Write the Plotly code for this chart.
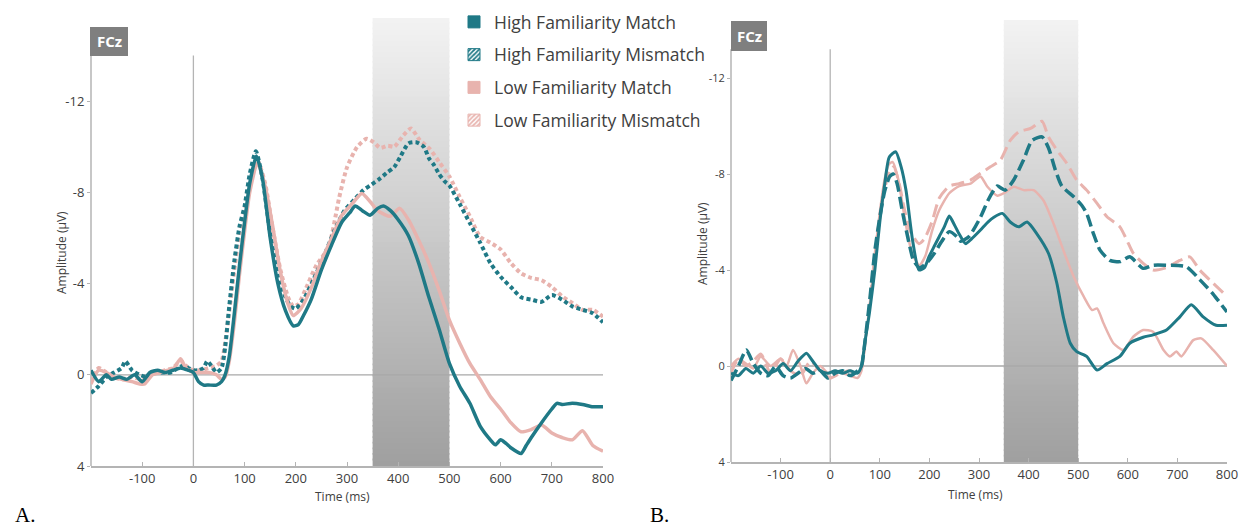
import plotly.graph_objects as go

# ---------------- data ----------------
# Panel A
A_hf_match_t = [-200,-185,-170,-160,-145,-130,-115,-100,-85,-70,-55,-40,-25,-10,0,10,20,30,45,55,62,70,80,90,100,110,123,135,150,165,180,195,205,215,230,250,270,290,305,316,330,345,360,371,385,400,420,440,460,480,500,520,540,560,580,590,600,610,620,640,650,660,680,700,710,720,740,760,780,800]
A_hf_match_v = [-0.2,0.3,0.0,0.2,0.1,0.2,0.0,0.3,-0.1,-0.2,-0.1,-0.2,-0.3,-0.2,-0.1,0.3,0.45,0.45,0.45,0.3,0.0,-0.8,-2.7,-4.8,-6.7,-8.4,-9.6,-8.6,-6.0,-4.0,-2.8,-2.15,-2.2,-2.6,-3.3,-4.6,-5.7,-6.7,-7.1,-7.4,-7.2,-7.0,-7.3,-7.4,-7.2,-6.8,-6.1,-4.9,-3.4,-2.0,-0.5,0.5,1.25,2.25,2.85,3.07,2.85,3.0,3.2,3.45,3.1,2.75,2.1,1.5,1.25,1.3,1.25,1.3,1.4,1.4]

A_hf_mismatch_t = [-200,-185,-170,-155,-140,-133,-120,-105,-90,-75,-60,-45,-30,-20,-10,0,10,20,27,35,45,55,62,70,80,90,100,110,122,135,150,165,180,190,200,215,235,255,275,295,315,332,345,361,380,392,405,420,435,450,460,470,480,490,500,520,540,560,580,600,620,640,660,680,700,720,740,760,780,800]
A_hf_mismatch_v = [0.8,0.5,0.1,-0.1,-0.3,-0.6,-0.2,0.0,0.1,-0.1,-0.1,-0.1,-0.3,-0.4,-0.3,-0.2,-0.2,-0.3,-0.6,-0.4,-0.1,-0.3,-1.2,-3.0,-5.0,-6.5,-7.4,-8.8,-9.8,-8.6,-6.2,-4.4,-3.4,-3.0,-2.9,-3.3,-4.2,-5.2,-6.3,-7.2,-7.7,-8.1,-8.3,-8.55,-8.9,-9.1,-9.6,-10.15,-10.2,-10.0,-9.5,-9.2,-8.8,-8.5,-8.3,-7.5,-6.65,-5.8,-4.9,-4.3,-3.85,-3.4,-3.3,-3.2,-3.5,-3.3,-3.0,-2.85,-2.7,-2.3]

A_lf_match_t = [-200,-185,-170,-155,-140,-120,-105,-95,-80,-65,-50,-38,-25,-15,0,15,30,45,55,62,70,80,90,100,110,125,140,155,170,185,195,210,230,250,270,290,310,329,345,360,384,403,420,440,460,480,500,520,540,560,580,600,620,640,660,680,700,720,740,760,780,800]
A_lf_match_v = [0.4,-0.2,-0.1,0.1,0.2,0.3,0.4,0.4,0.0,-0.1,-0.2,-0.3,-0.7,-0.3,-0.1,-0.1,-0.1,0.0,0.2,0.1,-0.6,-2.3,-4.4,-6.3,-8.0,-9.3,-8.3,-6.5,-4.5,-3.1,-2.6,-2.9,-3.8,-5.0,-6.0,-7.0,-7.5,-7.95,-7.6,-7.2,-6.95,-7.3,-6.8,-5.9,-4.9,-3.7,-2.4,-1.4,-0.5,0.2,0.95,1.5,2.1,2.5,2.4,2.2,2.55,2.75,2.85,2.45,3.1,3.35]

A_lf_mismatch_t = [-200,-185,-170,-155,-140,-120,-100,-85,-70,-55,-40,-25,-10,0,15,30,45,55,62,70,80,90,100,110,125,140,155,170,185,195,205,220,240,264,285,300,320,338,352,365,380,392,410,425,442,462,481,500,520,540,560,580,600,620,640,660,680,700,720,740,760,780,800]
A_lf_mismatch_v = [0.3,-0.3,-0.1,0.1,0.2,0.1,0.2,0.0,-0.1,-0.2,-0.3,-0.6,-0.3,-0.2,-0.2,-0.3,-0.4,-0.6,-1.4,-2.8,-4.6,-6.2,-7.3,-8.4,-9.4,-8.4,-6.4,-4.6,-3.4,-3.0,-3.1,-3.8,-4.8,-5.6,-7.8,-9.1,-10.0,-10.35,-10.2,-9.95,-10.05,-10.0,-10.5,-10.8,-10.3,-9.9,-9.3,-8.7,-7.8,-6.95,-6.05,-5.8,-5.5,-4.9,-4.45,-4.25,-4.15,-3.85,-3.45,-3.15,-2.85,-2.85,-2.55]

# Panel B
B_hf_match_t = [-200,-185,-170,-155,-140,-125,-110,-95,-80,-65,-48,-35,-20,-5,10,25,40,55,63,70,79,90,100,110,119,132,143,153,166,179,190,199,210,220,230,240,250,260,273,285,303,318,330,347,363,380,397,417,440,457,470,484,497,517,538,558,584,604,631,651,678,705,728,752,778,800]
B_hf_match_v = [0.3,0.4,0.1,0.3,0.0,0.3,0.2,-0.1,0.2,-0.2,-0.53,-0.2,0.2,0.3,0.2,0.3,0.2,0.3,0.0,-1.0,-2.2,-4.0,-6.0,-7.6,-8.7,-8.93,-8.3,-7.3,-5.25,-4.0,-4.1,-4.55,-5.0,-5.4,-5.8,-6.25,-5.9,-5.5,-5.1,-5.3,-5.67,-6.0,-6.2,-6.36,-6.0,-5.8,-6.0,-5.5,-4.7,-3.45,-2.05,-0.95,-0.6,-0.4,0.17,-0.1,-0.4,-0.95,-1.2,-1.3,-1.5,-2.05,-2.55,-2.05,-1.7,-1.7]

B_hf_mismatch_t = [-200,-185,-169,-155,-140,-125,-110,-95,-80,-65,-50,-35,-20,-5,10,25,40,55,63,70,80,90,100,110,120,127,135,145,155,168,180,195,210,225,240,255,263,280,303,318,330,337,353,370,390,407,427,440,454,467,491,507,517,531,544,564,584,604,631,651,678,718,745,772,800]
B_hf_mismatch_v = [0.6,0.0,-0.67,-0.1,0.3,0.4,0.0,0.4,0.5,0.3,0.1,0.3,0.2,0.5,0.3,0.2,0.4,0.2,0.0,-1.0,-2.8,-4.8,-6.2,-7.3,-7.9,-8.0,-7.6,-6.5,-5.5,-4.4,-4.1,-4.3,-4.7,-5.2,-5.6,-5.4,-5.2,-5.4,-6.2,-6.9,-7.33,-7.5,-7.33,-7.75,-8.6,-9.4,-9.55,-9.1,-8.17,-7.5,-7.05,-6.7,-6.36,-5.5,-4.83,-4.4,-4.35,-4.55,-4.07,-4.2,-4.2,-4.14,-3.6,-3.0,-2.25]

B_lf_match_t = [-200,-185,-170,-155,-140,-120,-100,-88,-75,-60,-48,-35,-20,-5,10,25,40,55,63,70,80,90,100,110,118,126,137,150,165,180,192,205,220,240,260,283,303,317,337,350,370,390,410,430,450,470,491,511,528,538,551,571,591,611,631,651,672,685,698,708,732,748,772,800]
B_lf_match_v = [0.0,-0.3,-0.1,0.1,-0.4,0.0,-0.3,0.0,-0.67,0.0,0.72,0.3,0.0,0.3,0.2,0.3,0.4,0.5,0.2,-0.9,-2.6,-4.6,-6.4,-7.8,-8.4,-8.5,-7.8,-6.2,-4.7,-4.2,-4.6,-5.6,-6.5,-7.2,-7.5,-7.6,-7.9,-7.47,-7.1,-7.2,-7.47,-7.33,-7.33,-6.9,-5.95,-4.83,-3.72,-2.9,-2.33,-2.4,-1.78,-0.95,-0.67,-1.22,-1.5,-1.43,-0.67,-0.4,-0.6,-0.4,-1.08,-1.15,-0.67,0.0]

B_lf_mismatch_t = [-200,-185,-170,-155,-140,-120,-100,-80,-60,-40,-20,0,20,40,55,63,70,80,90,100,110,120,128,138,150,162,179,190,205,220,240,260,283,303,323,343,363,380,404,427,440,457,477,497,517,538,558,584,598,611,631,651,678,705,725,745,772,800]
B_lf_mismatch_v = [0.3,-0.3,0.0,-0.2,-0.5,0.3,-0.3,0.2,0.4,-0.2,0.2,0.5,0.3,0.2,0.4,0.1,-0.9,-2.7,-4.6,-6.2,-7.4,-8.1,-8.3,-7.7,-6.5,-5.6,-5.1,-5.3,-6.0,-7.0,-7.5,-7.6,-7.75,-8.03,-8.3,-8.58,-9.4,-9.76,-9.9,-10.2,-9.55,-9.0,-8.45,-7.75,-7.33,-6.78,-6.22,-5.8,-5.25,-4.7,-4.28,-4.0,-4.1,-4.4,-4.55,-4.0,-3.45,-2.9]

legend_names = ["High Familiarity Match", "High Familiarity Mismatch",
                "Low Familiarity Match", "Low Familiarity Mismatch"]
x_ticks = [-100, 0, 100, 200, 300, 400, 500, 600, 700, 800]
x_tick_text = ["-100", "0", "100", "200", "300", "400", "500", "600", "700", "800"]
y_ticks = [-12, -8, -4, 0, 4]
y_tick_text = ["-12", "-8", "-4", "0", "4"]
window_ms = [350, 500]
panel_labels = ["A.", "B."]
electrode = "FCz"

# ---------------- style ----------------
TEAL = "#1f7986"
PINK = "#e8b3ae"
AX = "#b4b4b4"
TXT = "#404040"
FONT = "Open Sans"
W, H = 1249, 527

def px_x(p):
    """reference pixel -> paper fraction"""
    return p / W

def px_y(p):
    return 1 - p / H

fig = go.Figure()

# panel A traces
fig.add_trace(go.Scatter(x=A_lf_mismatch_t, y=A_lf_mismatch_v, mode="lines",
                         line=dict(color=PINK, width=4, dash="4px,3px", shape="spline", smoothing=0.6),
                         showlegend=False, xaxis="x", yaxis="y"))
fig.add_trace(go.Scatter(x=A_hf_mismatch_t, y=A_hf_mismatch_v, mode="lines",
                         line=dict(color=TEAL, width=4, dash="4px,3px", shape="spline", smoothing=0.6),
                         showlegend=False, xaxis="x", yaxis="y"))
fig.add_trace(go.Scatter(x=A_lf_match_t, y=A_lf_match_v, mode="lines",
                         line=dict(color=PINK, width=3.5, shape="spline", smoothing=0.6),
                         showlegend=False, xaxis="x", yaxis="y"))
fig.add_trace(go.Scatter(x=A_hf_match_t, y=A_hf_match_v, mode="lines",
                         line=dict(color=TEAL, width=3.5, shape="spline", smoothing=0.6),
                         showlegend=False, xaxis="x", yaxis="y"))

# panel B traces
fig.add_trace(go.Scatter(x=B_lf_mismatch_t, y=B_lf_mismatch_v, mode="lines",
                         line=dict(color=PINK, width=3, dash="13px,6px", shape="spline", smoothing=0.6),
                         showlegend=False, xaxis="x2", yaxis="y2"))
fig.add_trace(go.Scatter(x=B_lf_match_t, y=B_lf_match_v, mode="lines",
                         line=dict(color=PINK, width=2.5, shape="spline", smoothing=0.6),
                         showlegend=False, xaxis="x2", yaxis="y2"))
fig.add_trace(go.Scatter(x=B_hf_mismatch_t, y=B_hf_mismatch_v, mode="lines",
                         line=dict(color=TEAL, width=3.5, dash="12px,5px", shape="spline", smoothing=0.6),
                         showlegend=False, xaxis="x2", yaxis="y2"))
fig.add_trace(go.Scatter(x=B_hf_match_t, y=B_hf_match_v, mode="lines",
                         line=dict(color=TEAL, width=3, shape="spline", smoothing=0.6),
                         showlegend=False, xaxis="x2", yaxis="y2"))

# legend-only entries (square swatches, hatched for mismatch)
legend_styles = [
    dict(color=TEAL, line=dict(color=TEAL, width=1)),
    dict(color="white", line=dict(color=TEAL, width=1),
         pattern=dict(shape="/", fgcolor=TEAL, bgcolor="white", size=4, solidity=0.55, fillmode="replace")),
    dict(color=PINK, line=dict(color=PINK, width=1)),
    dict(color="white", line=dict(color=PINK, width=1),
         pattern=dict(shape="/", fgcolor=PINK, bgcolor="white", size=4, solidity=0.55, fillmode="replace")),
]
for name, mk in zip(legend_names, legend_styles):
    fig.add_trace(go.Bar(x=[None], y=[None], name=name, marker=mk,
                         legendgroup=name, xaxis="x", yaxis="y"))

# geometry of the two panels (reference pixels)
panels = [
    dict(xa="x", ya="y", left=91, right=603, top=18, bottom=466, yrange=[4, -15.65],
         ytop_line=-14.0, tickfont=13, box=(90, 128, 27, 56),
         xtitle=(342, 496), ytitle=(61, 253), label=(13, 515)),
    dict(xa="x2", ya="y2", left=731, right=1227, top=20, bottom=462, yrange=[4, -14.42],
         ytop_line=-13.2, tickfont=11, box=(731, 767, 21, 51),
         xtitle=(975, 494), ytitle=(702, 244), label=(648, 515)),
]

shapes = []
annotations = []
n_strips = 80
top_c, bot_c = 242, 160
for i, p in enumerate(panels):
    sfx = "" if i == 0 else "2"
    fig.update_layout(**{
        "xaxis" + sfx: dict(domain=[px_x(p["left"]), px_x(p["right"])], range=[-200, 800],
                            anchor="y" + sfx, showgrid=False, zeroline=False, automargin=False,
                            showline=True, linecolor=AX, linewidth=1.5,
                            ticks="inside", ticklen=4, tickcolor=AX, tickwidth=1,
                            tickvals=x_ticks, ticktext=x_tick_text,
                            tickfont=dict(size=13, color=TXT, family=FONT)),
        "yaxis" + sfx: dict(domain=[px_y(p["bottom"]), px_y(p["top"])], range=p["yrange"],
                            anchor="x" + sfx, showgrid=False, zeroline=False, showline=False,
                            automargin=False,
                            ticks="outside", ticklen=3, tickcolor=AX, tickwidth=1,
                            tickvals=y_ticks, ticktext=y_tick_text,
                            tickfont=dict(size=p["tickfont"], color=TXT, family=FONT)),
    })
    # gradient window (stack of thin strips)
    for k in range(n_strips):
        f = k / (n_strips - 1)
        c = int(round(bot_c + (top_c - bot_c) * f))
        shapes.append(dict(type="rect", xref=p["xa"], yref=p["ya"] + " domain",
                           x0=window_ms[0], x1=window_ms[1],
                           y0=k / n_strips, y1=min(1.0, (k + 1) / n_strips + 0.004),
                           fillcolor=f"rgb({c},{c},{c})", line=dict(width=0), layer="below"))
    # y axis line, zero lines
    shapes.append(dict(type="line", xref=p["xa"] + " domain", yref=p["ya"], x0=0, x1=0,
                       y0=4, y1=p["ytop_line"], line=dict(color=AX, width=1.5), layer="below"))
    shapes.append(dict(type="line", xref=p["xa"], yref=p["ya"], x0=0, x1=0,
                       y0=4, y1=p["ytop_line"], line=dict(color=AX, width=1.3), layer="below"))
    shapes.append(dict(type="line", xref=p["xa"], yref=p["ya"], x0=-200, x1=800,
                       y0=0, y1=0, line=dict(color="#a8a8a8", width=1.3), layer="below"))
    # electrode box
    bx0, bx1, by0, by1 = p["box"]
    shapes.append(dict(type="rect", xref="paper", yref="paper", x0=px_x(bx0), x1=px_x(bx1),
                       y0=px_y(by1), y1=px_y(by0), fillcolor="#7f7f7f", line=dict(width=0)))
    annotations.append(dict(text="<b>" + electrode + "</b>", xref="paper", yref="paper",
                            x=px_x((bx0 + bx1) / 2), y=px_y((by0 + by1) / 2),
                            xanchor="center", yanchor="middle", showarrow=False,
                            font=dict(size=15, color="white", family=FONT)))
    # axis titles
    annotations.append(dict(text="Time (ms)", xref="paper", yref="paper",
                            x=px_x(p["xtitle"][0]), y=px_y(p["xtitle"][1]),
                            xanchor="center", yanchor="middle", showarrow=False,
                            font=dict(size=12, color=TXT, family=FONT)))
    annotations.append(dict(text="Amplitude (µV)", xref="paper", yref="paper",
                            x=px_x(p["ytitle"][0]), y=px_y(p["ytitle"][1]), textangle=-90,
                            xanchor="center", yanchor="middle", showarrow=False,
                            font=dict(size=12, color=TXT, family=FONT)))
    annotations.append(dict(text=panel_labels[i], xref="paper", yref="paper",
                            x=px_x(p["label"][0]), y=px_y(p["label"][1]),
                            xanchor="left", yanchor="middle", showarrow=False,
                            font=dict(size=21, color="black", family="Liberation Serif")))

fig.update_layout(
    width=W, height=H, margin=dict(l=0, r=0, t=0, b=0, autoexpand=False),
    paper_bgcolor="white", plot_bgcolor="rgba(0,0,0,0)",
    shapes=shapes, annotations=annotations,
    showlegend=True,
    legend=dict(x=px_x(454), y=px_y(4), xanchor="left", yanchor="top",
                font=dict(size=17.5, color=TXT, family=FONT),
                tracegroupgap=7, bgcolor="rgba(0,0,0,0)", traceorder="grouped"),
    hovermode=False,
)

# no page margin / scrollbars around the figure
fit_script = (
    "document.body.style.margin='0px';"
    "document.documentElement.style.overflow='hidden';"
    "document.body.style.overflow='hidden';"
)
fig.write_html("out.html", config={"displayModeBar": False}, post_script=fit_script)
